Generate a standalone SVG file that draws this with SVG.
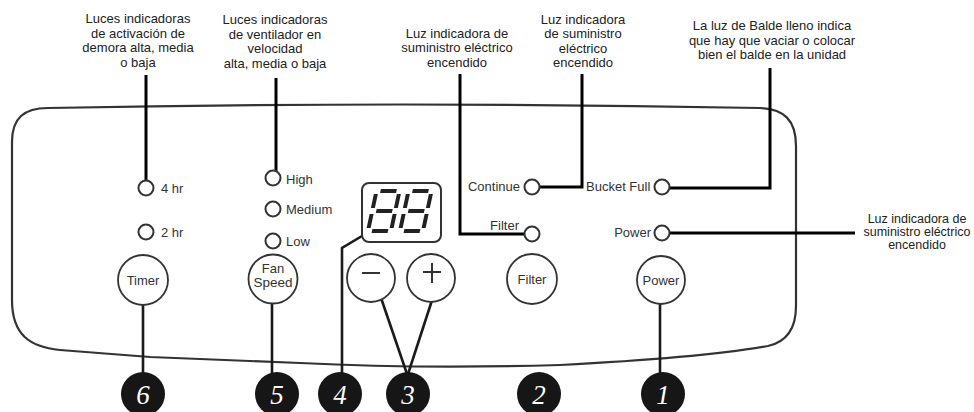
<svg xmlns="http://www.w3.org/2000/svg" width="974" height="412" viewBox="0 0 974 412">
<style>
text{font-family:"Liberation Sans",Arial,sans-serif;fill:#222;}
.lbl{font-size:13px;text-anchor:middle;}
.lbl6{font-size:12.5px;text-anchor:middle;}
.pt{font-size:13px;fill:#333;}
.bt{font-size:13px;fill:#333;text-anchor:middle;}
.led{fill:#fff;stroke:#333;stroke-width:2;}
.btn{fill:#fff;stroke:#333;stroke-width:1.8;}
.panel{fill:none;stroke:#333;stroke-width:2.2;}
.con{fill:none;stroke:#000;stroke-width:3;}
.conb{fill:none;stroke:#1a1a1a;stroke-width:2.6;}
.num{fill:#161616;}
.nt{font-family:"Liberation Serif","DejaVu Serif",serif;font-style:italic;font-size:27px;fill:#fff;text-anchor:middle;}
.seg{stroke:#222;stroke-width:4;fill:none;}
.sign{stroke:#333;stroke-width:2;fill:none;}
</style>

<g id="panel">
<path class="panel" d="M 12 142 C 12 118 24 108 48 108 Q 400 101 760 108 C 784 109 796 120 796 146 L 796 306 C 796 330 786 342 768 346 Q 700 358 560 365 Q 420 369 300 363 Q 200 359 150 357 L 60 350 C 30 347 12 335 12 300 Z"/>
</g>

<g id="labels">
<text class="lbl" x="138" y="23">Luces indicadoras</text>
<text class="lbl" x="138" y="37.5">de activación de</text>
<text class="lbl" x="138" y="52">demora alta, media</text>
<text class="lbl" x="138" y="66.5">o baja</text>

<text class="lbl" x="275" y="24">Luces indicadoras</text>
<text class="lbl" x="275" y="38.5">de ventilador en</text>
<text class="lbl" x="275" y="53">velocidad</text>
<text class="lbl" x="275" y="67.5">alta, media o baja</text>

<text class="lbl" x="457" y="37.5">Luz indicadora de</text>
<text class="lbl" x="457" y="52">suministro eléctrico</text>
<text class="lbl" x="457" y="66.5">encendido</text>

<text class="lbl" x="583" y="23.5">Luz indicadora</text>
<text class="lbl" x="583" y="38">de suministro</text>
<text class="lbl" x="583" y="52.5">eléctrico</text>
<text class="lbl" x="583" y="67">encendido</text>

<text class="lbl" x="772" y="30">La luz de Balde lleno indica</text>
<text class="lbl" x="772" y="44.5">que hay que vaciar o colocar</text>
<text class="lbl" x="772" y="59">bien el balde en la unidad</text>

<text class="lbl6" x="917" y="223">Luz indicadora de</text>
<text class="lbl6" x="917" y="236">suministro eléctrico</text>
<text class="lbl6" x="917" y="249">encendido</text>
</g>

<g id="connectors">
<path class="con" d="M146 75 V181"/>
<path class="con" d="M276 78 V171"/>
<path class="con" d="M460 74 V234 H525"/>
<path class="con" d="M582 74 V187 H540"/>
<path class="con" d="M770 68 V188 H669"/>
<path class="con" d="M669 233 H855"/>
<path class="conb" d="M143 292 V374"/>
<path class="conb" d="M272 292 V374"/>
<path class="conb" d="M362 236 L342 248 V374"/>
<path class="conb" d="M379 292 L407 374"/>
<path class="conb" d="M436 288 L408 374"/>
<path class="conb" d="M660 292 V374"/>
</g>

<g id="timer-leds">
<circle class="led" cx="146" cy="188" r="7.5"/>
<text class="pt" x="161" y="193">4 hr</text>
<circle class="led" cx="146" cy="232" r="7.5"/>
<text class="pt" x="161" y="237">2 hr</text>
</g>
<g id="timer-button">
<circle class="btn" cx="143" cy="280" r="25"/>
<text class="bt" x="143" y="285">Timer</text>
</g>

<g id="fan-leds">
<circle class="led" cx="273" cy="178" r="7.5"/>
<text class="pt" x="286" y="184">High</text>
<circle class="led" cx="273" cy="209" r="7.5"/>
<text class="pt" x="286" y="214">Medium</text>
<circle class="led" cx="273" cy="241" r="7.5"/>
<text class="pt" x="286" y="246">Low</text>
</g>
<g id="fan-button">
<circle class="btn" cx="273" cy="279" r="24.5"/>
<text class="bt" x="273" y="273">Fan</text>
<text class="bt" x="273" y="287" style="font-size:13.5px">Speed</text>
</g>

<g id="display">
<rect x="362" y="183" width="79" height="59" rx="7" fill="#fff" stroke="#333" stroke-width="2"/>
<g transform="translate(368,231) skewX(-12)">
<path class="seg" d="M4 -40 H20 M23 -37 V-23 M23 -17 V-3 M4 0 H20 M0 -17 V-3 M0 -37 V-23 M4 -20 H20"/>
</g>
<g transform="translate(400,231) skewX(-12)">
<path class="seg" d="M4 -40 H20 M23 -37 V-23 M23 -17 V-3 M4 0 H20 M0 -17 V-3 M0 -37 V-23 M4 -20 H20"/>
</g>
</g>

<g id="minus-button">
<circle class="btn" cx="371" cy="278" r="24"/>
<path class="sign" d="M362 273 H380"/>
</g>
<g id="plus-button">
<circle class="btn" cx="431" cy="278" r="24"/>
<path class="sign" d="M423 272 H441 M432 263 V283"/>
</g>

<g id="continue-led">
<circle class="led" cx="532" cy="187" r="7.5"/>
<text class="pt" x="520" y="191" text-anchor="end">Continue</text>
</g>
<g id="filter-led">
<circle class="led" cx="532" cy="234" r="7.5"/>
<text class="pt" x="519" y="230" text-anchor="end">Filter</text>
</g>
<g id="filter-button">
<circle class="btn" cx="532" cy="279" r="25"/>
<text class="bt" x="532" y="284">Filter</text>
</g>

<g id="bucket-led">
<circle class="led" cx="662" cy="187" r="7.5"/>
<text class="pt" x="586" y="191">Bucket Full</text>
</g>
<g id="power-led">
<circle class="led" cx="662" cy="233" r="7.5"/>
<text class="pt" x="651" y="237" text-anchor="end">Power</text>
</g>
<g id="power-button">
<circle class="btn" cx="661" cy="280" r="24"/>
<text class="bt" x="661" y="285">Power</text>
</g>

<g id="n6"><circle class="num" cx="143" cy="394" r="22"/><text class="nt" x="143" y="404">6</text></g>
<g id="n5"><circle class="num" cx="277" cy="394" r="22"/><text class="nt" x="277" y="404">5</text></g>
<g id="n4"><circle class="num" cx="340" cy="394" r="22"/><text class="nt" x="340" y="404">4</text></g>
<g id="n3"><circle class="num" cx="408" cy="394" r="22"/><text class="nt" x="408" y="404">3</text></g>
<g id="n2"><circle class="num" cx="539" cy="394" r="22"/><text class="nt" x="539" y="404">2</text></g>
<g id="n1"><circle class="num" cx="663" cy="394" r="22"/><text class="nt" x="663" y="404">1</text></g>
</svg>
